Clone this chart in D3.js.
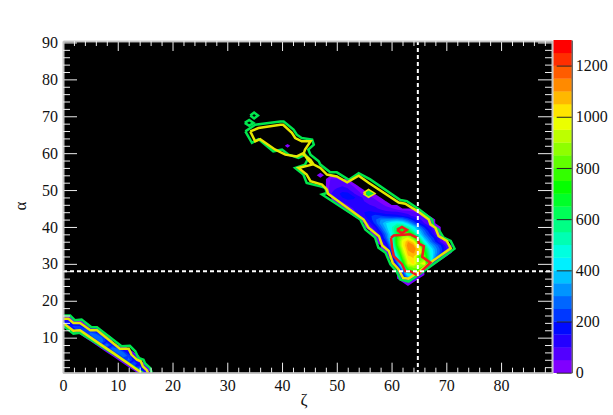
<!DOCTYPE html>
<html><head><meta charset="utf-8">
<script src="https://cdn.jsdelivr.net/npm/d3@7"></script>
<style>html,body{margin:0;padding:0;background:#fff}svg{display:block}text{font-family:"Liberation Serif",serif;font-size:16px;fill:#111}</style>
</head><body><svg id="c" width="613" height="415"></svg>
<script>
const xMajor=[0,10,20,30,40,50,60,70,80];
const yMajor=[10,20,30,40,50,60,70,80,90];
const cbTicks=[0,200,400,600,800,1000,1200];
const refZeta=64.8, refAlpha=28;
const xTitle="ζ", yTitle="α";
const bandStep=50, bandCount=26;
// [alpha, first zeta, values...]
const heatRows=[
[62,41,[2]],[54,47,[3]],
[53,49,[60,60]],
[52,49,[70,90,80,60]],
[51,49,[80,90,100,90,50]],
[50,49,[90,110,130,110,80,40]],
[49,49,[100,130,170,170,110,70,30]],
[48,50,[110,150,180,170,120,90,70,30]],
[47,50,[80,110,130,130,120,100,80,70,30]],
[46,51,[70,100,110,110,110,100,90,70,30]],
[45,52,[70,100,120,130,130,110,90,80,60,30]],
[44,53,[80,120,150,160,150,130,110,110,110,90,80,60,30]],
[43,54,[90,140,190,220,210,190,180,170,150,120,90,70,30]],
[42,55,[100,170,240,300,310,310,320,300,240,170,110,80,30]],
[41,56,[120,220,320,400,470,490,470,380,260,170,100,60]],
[40,56,[60,150,270,380,490,600,620,530,420,300,190,110,50]],
[39,57,[100,210,340,480,660,760,680,520,380,260,160,70]],
[38,57,[60,150,290,450,670,840,830,660,440,300,200,90]],
[37,58,[110,260,460,760,920,970,830,580,370,260,170,70]],
[36,58,[70,190,420,770,980,1100,1020,730,460,310,200,90]],
[35,59,[130,340,740,980,1130,1110,920,590,390,290,200,80]],
[34,59,[80,270,660,930,1110,1150,1030,700,470,330,230,110]],
[33,60,[200,570,880,1080,1110,1040,770,500,340,220,70]],
[32,60,[120,470,810,1040,1060,780,830,530,310,140]],
[31,61,[340,730,990,1040,820,880,570,170]],
[30,61,[220,650,960,1010,890,1050,370]],
[29,62,[460,820,860,910,620]],
[28,62,[240,640,790,580]],
[27,62,[140,450,470,140]],
[26,62,[140,280,150]],
[25,63,[70]],
[15,0,[130,90]],
[14,0,[190,190,120,60]],
[13,1,[160,220,220,150]],
[12,2,[160,230,250,220,130]],
[11,4,[170,270,260,160]],
[10,5,[180,280,270,150]],
[9,6,[190,290,180]],
[8,7,[190,300,190]],
[7,8,[180,290,250,120]],
[6,9,[170,280,260,150]],
[5,10,[180,280,240,130]],
[4,11,[190,270,170]],
[3,12,[180,260,140]],
[2,13,[190,240,110]],
[1,14,[180,140]]
];
// contour traces, [zeta, alpha] pairs
const greenMain=[[33.3,65.9],[35.1,67.7],[39.7,68.6],[40.3,68.6],[42.1,66.4],[42.7,65],[43.6,64.1],[45.5,63.7],[45.8,62.3],[44.8,61],[45.2,59.6],[46.7,57.8],[47,56.9],[48.8,54.8],[50,54.8],[52.2,52.8],[54,54.6],[56.1,52.9],[61.6,47.3],[62.8,47],[65,44.8],[67.4,42],[67.7,40.2],[68.6,39.3],[69.5,37.1],[70.8,36.2],[71.5,34.1],[68,30.3],[65.3,27.4],[63.1,25.2],[61.6,25.8],[60.9,28],[59.8,29.9],[58.9,33],[57.6,34.4],[57,37.1],[55.2,39.3],[54.3,42],[47.3,48.8],[48.2,49.2],[47.9,50.6],[47,51],[44.5,51.9],[43.9,54.2],[42.4,56],[44.2,56.9],[44.8,58.7],[44.2,59.6],[43,58.7],[41.2,59.6],[40,61],[38.4,60.5],[35.7,63.8],[34.5,62.8],[33.3,65.9]];
const yellowMain=[[34.2,65.9],[35.7,66.8],[39.7,67.7],[40.2,67.7],[41.8,65.5],[42.4,64.1],[43.6,63.2],[45.2,63.2],[44.2,61],[43.9,59.6],[45.2,58.2],[45.8,56.9],[47,56],[48.2,54.2],[50,53.7],[51.9,52.1],[54,53.9],[55.8,52],[61.3,46.6],[62.5,46.3],[64.7,44.3],[66.8,42],[67.1,40.7],[68,39.8],[68.6,37.5],[70.1,36.2],[70.8,34.2],[67.7,31],[65,27.9],[63.1,26],[62.1,26.2],[61.3,28.5],[60.2,30.3],[59.5,33.5],[58.3,35],[57.7,37.5],[55.8,39.8],[54.9,42],[48.4,49],[48.2,50.1],[47.3,51.5],[45.2,52.4],[44.5,54.2],[43,56],[45.5,56.9],[44.5,58.7],[43.9,60],[42.7,59.1],[40.6,59.6],[38.7,61],[36,63.8],[35.1,63.2],[34.2,65.9]];
const redMain=[[59.9,37.1],[60.4,37.7],[63.4,38],[64.8,37],[65,35.5],[65.9,34.8],[65.6,31.9],[67.1,30.3],[64.7,26.9],[63.4,28],[62.5,28],[61.9,29.9],[60.4,32.1],[60.1,34.4],[59.9,37.1]];
const redIsland=[[61,39.2],[61.9,40],[62.8,39.2],[61.9,38.3],[61,39.2]];
const greenIslandA=[[34.2,70.2],[34.9,71],[35.6,70.2],[34.9,69.4],[34.2,70.2]];
const greenIslandB=[[33.2,68.2],[34,69],[34.8,68.2],[34,67.4],[33.2,68.2]];
const yellowIslandC=[[54.9,49.1],[55.8,50],[56.8,49.1],[55.8,48.2],[54.9,49.1]];
const greenIslandC=[[55.4,49.1],[55.8,49.5],[56.3,49.1],[55.8,48.7],[55.4,49.1]];
const greenStripTop=[[0,16],[1.3,16],[2.2,14.7],[3.4,14.9],[5.2,12.8],[6.2,12.8],[10.7,7.7],[12.2,7.8],[13.2,6.3],[13.8,4.5],[14.7,4],[15,3],[15.9,1.8],[16.2,0.5]];
const greenStripLow=[[0,13.3],[1.9,11.1],[3.1,11.3],[9.5,5.4],[14.6,0.5]];
const yellowStripTop=[[0,15.1],[1,15.1],[1.9,14],[3.1,14],[5,12],[6.2,12],[10.4,7],[12,7],[12.5,5.4],[13.5,4],[14.2,3.6],[14.6,2.2],[15.3,1.2],[15.5,0.5]];
const yellowStripLow=[[0,14],[1.9,11.9],[3.1,12],[9.2,5.8],[14.3,0.5]];

const svg=d3.select("#c");
const L=63,R=552,T=41,B=372.7;
const x=d3.scaleLinear().domain([0,89.3]).range([L,R]);
const y=d3.scaleLinear().domain([0.5,90.4]).range([B,T]);
const cb=d3.scaleLinear().domain([0,1300]).range([372.7,40]);
const bandColor=i=>d3.hsl(270*(1-i/(bandCount-1)),1,0.5).formatHex();

svg.append("defs").append("clipPath").attr("id","pc").append("rect")
  .attr("x",L).attr("y",T).attr("width",R-L).attr("height",B-T);
svg.append("rect").attr("x",L).attr("y",T).attr("width",R-L).attr("height",B-T).attr("fill","#000");
const plot=svg.append("g").attr("clip-path","url(#pc)");

// heat field
const nx=92,ny=92,grid=new Array(nx*ny).fill(0);
heatRows.forEach(([a,z0,vals])=>vals.forEach((v,k)=>{grid[a*nx+z0+k]=v;}));
const thresholds=d3.range(bandCount).map(i=>i===0?1:i*bandStep);
const contours=d3.contours().size([nx,ny]).smooth(true).thresholds(thresholds)(grid);
const path=d3.geoPath(d3.geoTransform({point(px,py){this.stream.point(x(px-0.5),y(py-0.5));}}));
plot.append("g").selectAll("path").data(contours).join("path")
  .attr("d",path).attr("fill",(d,i)=>bandColor(i));

// contour traces
const line=d3.line().x(d=>x(d[0])).y(d=>y(d[1]));
const traces=[
 [greenMain,"#00e64d"],[greenIslandA,"#00e64d"],[greenIslandB,"#00e64d"],[greenStripTop,"#00e64d"],[greenStripLow,"#00e64d"],
 [yellowMain,"#e6e600"],[yellowIslandC,"#e6e600"],[greenIslandC,"#00e64d"],[yellowStripTop,"#e6e600"],[yellowStripLow,"#e6e600"],
 [redMain,"#f01c1c"],[redIsland,"#f01c1c"]];
plot.append("g").selectAll("path").data(traces).join("path")
  .attr("d",d=>line(d[0])).attr("fill","none").attr("stroke",d=>d[1]).attr("stroke-width",2.5);

// reference lines
plot.append("line").attr("x1",L).attr("x2",R).attr("y1",y(refAlpha)).attr("y2",y(refAlpha))
  .attr("stroke","#fff").attr("stroke-width",2).attr("stroke-dasharray","4,3");
plot.append("line").attr("x1",x(refZeta)).attr("x2",x(refZeta)).attr("y1",T).attr("y2",B)
  .attr("stroke","#fff").attr("stroke-width",2).attr("stroke-dasharray","4,3");

// axes
const xMinor=d3.range(2,90,2).filter(v=>!xMajor.includes(v));
const yMinor=d3.range(2,90,2).filter(v=>!yMajor.includes(v));
function style(g){g.selectAll(".domain").attr("stroke","#c4c4c4").attr("stroke-width",1.6);
  g.selectAll(".tick line").attr("stroke","#eee").attr("stroke-width",1);
  g.selectAll("text").attr("fill","#111").style("font-family",'"Liberation Serif",serif').style("font-size","16px");}
const ax=(gen,tx,ty)=>svg.append("g").attr("transform",`translate(${tx},${ty})`).call(gen).call(style);
ax(d3.axisBottom(x).tickValues(xMajor).tickSizeInner(-10).tickSizeOuter(0).tickPadding(7),0,B);
ax(d3.axisBottom(x).tickValues(xMinor).tickSizeInner(-5).tickSizeOuter(0).tickFormat(""),0,B);
ax(d3.axisTop(x).tickValues(xMajor).tickSizeInner(-10).tickSizeOuter(0).tickFormat(""),0,T);
ax(d3.axisTop(x).tickValues(xMinor).tickSizeInner(-5).tickSizeOuter(0).tickFormat(""),0,T);
ax(d3.axisLeft(y).tickValues(yMajor).tickSizeInner(-14).tickSizeOuter(0).tickPadding(5),L,0);
ax(d3.axisLeft(y).tickValues(yMinor).tickSizeInner(-7).tickSizeOuter(0).tickFormat(""),L,0);
ax(d3.axisRight(y).tickValues(yMajor).tickSizeInner(-14).tickSizeOuter(0).tickFormat(""),R,0);
ax(d3.axisRight(y).tickValues(yMinor).tickSizeInner(-7).tickSizeOuter(0).tickFormat(""),R,0);

// colour bar
const cbX=553.5,cbW=18.2;
svg.append("g").selectAll("rect").data(d3.range(bandCount)).join("rect")
  .attr("x",cbX).attr("width",cbW).attr("y",i=>cb((i+1)*bandStep)).attr("height",i=>cb(i*bandStep)-cb((i+1)*bandStep)+0.3)
  .attr("fill",bandColor);
const cbg=svg.append("g").attr("transform",`translate(${cbX+cbW},0)`)
  .call(d3.axisRight(cb).tickValues(cbTicks).tickFormat(d3.format("d")).tickSizeInner(-15).tickSizeOuter(0).tickPadding(4));
cbg.selectAll(".domain").attr("stroke","#222").attr("stroke-width",1);
cbg.selectAll(".tick line").attr("stroke","#222").attr("stroke-width",1);
cbg.selectAll("text").attr("fill","#111").style("font-family",'"Liberation Serif",serif').style("font-size","16px");

svg.append("text").attr("x",304).attr("y",405).attr("text-anchor","middle").style("font-size","17px").text(xTitle);
svg.append("text").attr("transform","translate(26,206) rotate(-90)").attr("text-anchor","middle").style("font-size","17px").text(yTitle);
</script></body></html>
